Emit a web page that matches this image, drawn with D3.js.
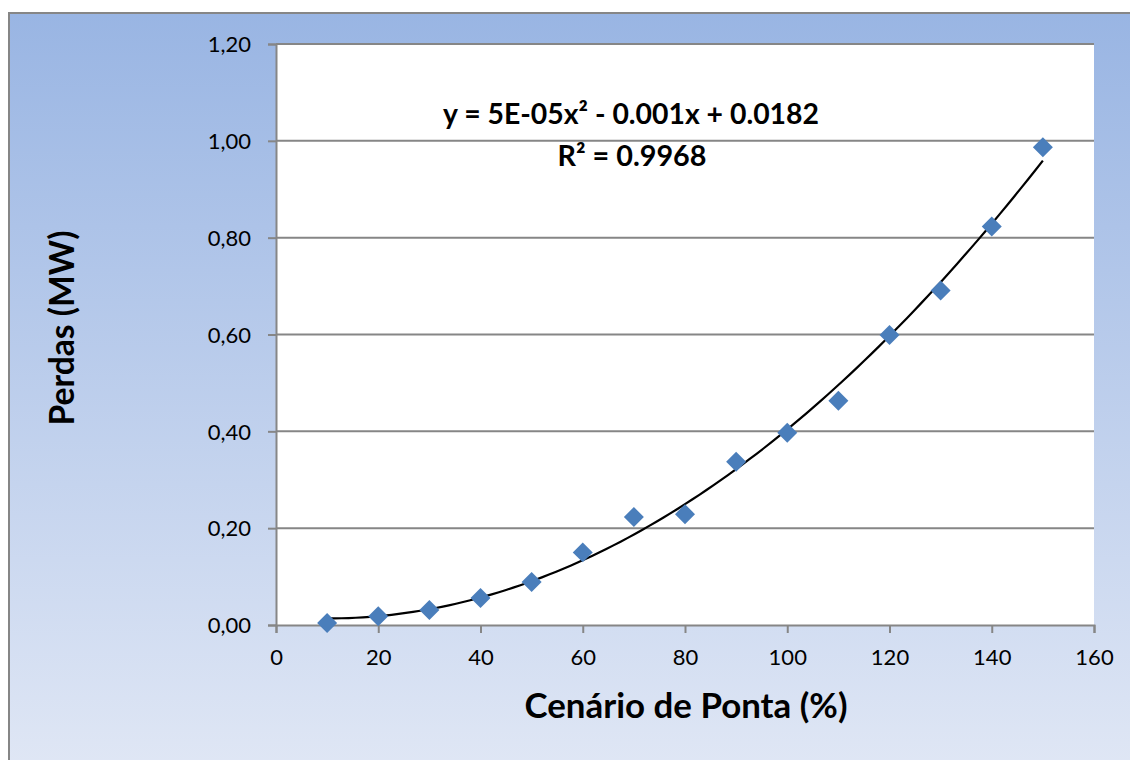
<!DOCTYPE html>
<html>
<head>
<meta charset="utf-8">
<script src="https://cdn.jsdelivr.net/npm/d3@7"></script>
<style>
html,body{margin:0;padding:0;background:#fff;}
svg{display:block;}
text{font-family:Lato,"Open Sans","Liberation Sans",sans-serif;}
</style>
</head>
<body>
<svg id="chart" width="1130" height="760"></svg>
<script>
const cenario = [10,20,30,40,50,60,70,80,90,100,110,120,130,140,150];
const perdas  = [0.004,0.018,0.031,0.056,0.089,0.150,0.223,0.229,0.337,0.397,0.463,0.599,0.691,0.823,0.987];
const xTicks = [0,20,40,60,80,100,120,140,160];
const yTicks = [0,0.2,0.4,0.6,0.8,1.0,1.2];
const xTitle = "Cenário de Ponta (%)";
const yTitle = "Perdas (MW)";
const eqText = "y = 5E-05x² - 0.001x + 0.0182";
const r2Text = "R² = 0.9968";

const svg = d3.select("#chart");
const W = 1130, H = 760;
const m = {left:276, top:44, right:1094, bottom:625};

// background gradient
const defs = svg.append("defs");
const grad = defs.append("linearGradient").attr("id","bg").attr("x1",0).attr("y1",0).attr("x2",0).attr("y2",1);
grad.append("stop").attr("offset","0%").attr("stop-color","#99b5e3");
grad.append("stop").attr("offset","100%").attr("stop-color","#e0e7f5");
svg.append("rect").attr("x",9).attr("y",13).attr("width",W).attr("height",H)
  .attr("fill","url(#bg)").attr("stroke","#868686").attr("stroke-width",2);

const x = d3.scaleLinear().domain([0,160]).range([m.left,m.right]);
const y = d3.scaleLinear().domain([0,1.2]).range([m.bottom,m.top]);

svg.append("rect").attr("x",m.left).attr("y",m.top)
  .attr("width",m.right-m.left).attr("height",m.bottom-m.top).attr("fill","#fff");

// gridlines
svg.append("g").selectAll("line").data(yTicks.filter(d=>d>0)).join("line")
  .attr("x1",m.left).attr("x2",m.right).attr("y1",d=>y(d)).attr("y2",d=>y(d))
  .attr("stroke","#868686").attr("stroke-width",2);

const fmt = d => d3.format(".2f")(d).replace(".",",");

// y axis
const yAxis = svg.append("g").attr("transform",`translate(${m.left},0)`)
  .call(d3.axisLeft(y).tickValues(yTicks).tickFormat(fmt).tickSize(8).tickPadding(17));
// x axis
const xAxis = svg.append("g").attr("transform",`translate(0,${m.bottom})`)
  .call(d3.axisBottom(x).tickValues(xTicks).tickFormat(d3.format("d")).tickSize(8).tickPadding(16));
[yAxis,xAxis].forEach(g=>{
  g.select(".domain").attr("stroke","#868686").attr("stroke-width",2);
  g.selectAll(".tick line").attr("stroke","#868686").attr("stroke-width",2);
  g.selectAll(".tick text").attr("fill","#000").style("font-size","22px").style("font-family","Lato, sans-serif");
});
yAxis.selectAll(".tick text").attr("dy","0.35em");
xAxis.selectAll(".tick text").attr("dy","0.71em");

// quadratic least-squares trendline
function quadFit(xs, ys){
  let S=[0,0,0,0,0], T=[0,0,0];
  xs.forEach((xi,i)=>{ for(let k=0;k<5;k++) S[k]+=Math.pow(xi,k); for(let k=0;k<3;k++) T[k]+=ys[i]*Math.pow(xi,k); });
  const A=[[S[0],S[1],S[2],T[0]],[S[1],S[2],S[3],T[1]],[S[2],S[3],S[4],T[2]]];
  for(let i=0;i<3;i++){ for(let j=i+1;j<3;j++){ const f=A[j][i]/A[i][i]; for(let k=i;k<4;k++) A[j][k]-=f*A[i][k]; } }
  const c=[0,0,0];
  for(let i=2;i>=0;i--){ let s=A[i][3]; for(let k=i+1;k<3;k++) s-=A[i][k]*c[k]; c[i]=s/A[i][i]; }
  return c;
}
const c = quadFit(cenario, perdas);
const xmin = d3.min(cenario), xmax = d3.max(cenario);
const trend = d3.range(0,101).map(i=>{ const xv = xmin + (xmax-xmin)*i/100; return [xv, c[0]+c[1]*xv+c[2]*xv*xv]; });
svg.append("path").datum(trend)
  .attr("d", d3.line().x(d=>x(d[0])).y(d=>y(d[1])))
  .attr("fill","none").attr("stroke","#000").attr("stroke-width",2.2);

// markers
svg.append("g").selectAll("path").data(cenario.map((d,i)=>[d,perdas[i]])).join("path")
  .attr("transform",d=>`translate(${x(d[0])},${y(d[1])})`)
  .attr("d", d3.symbol().type(d3.symbolDiamond2 ? d3.symbolSquare : d3.symbolSquare).size(200)())
  .attr("transform",d=>`translate(${x(d[0])},${y(d[1])}) rotate(45)`)
  .attr("fill","#4a7ebb");

function fitText(sel, target){
  const n = sel.node(); const w = n.getComputedTextLength();
  const fs = parseFloat(sel.style("font-size"));
  sel.style("font-size", (fs*target/w)+"px");
}

// axis titles
const xt = svg.append("text").attr("x",686).attr("y",718).attr("text-anchor","middle")
  .style("font-weight","bold").style("font-size","30px").text(xTitle);
fitText(xt, 323);
const yt = svg.append("text").attr("transform","translate(74,328) rotate(-90)").attr("text-anchor","middle")
  .style("font-weight","bold").style("font-size","30px").text(yTitle);
fitText(yt, 195);

// equation
const eq = svg.append("text").attr("x",631).attr("y",124).attr("text-anchor","middle")
  .style("font-weight","bold").style("font-size","24px").text(eqText);
fitText(eq, 376);
const r2 = svg.append("text").attr("x",632).attr("y",166).attr("text-anchor","middle")
  .style("font-weight","bold").style("font-size","24px").text(r2Text);
fitText(r2, 149);
</script>
</body>
</html>
